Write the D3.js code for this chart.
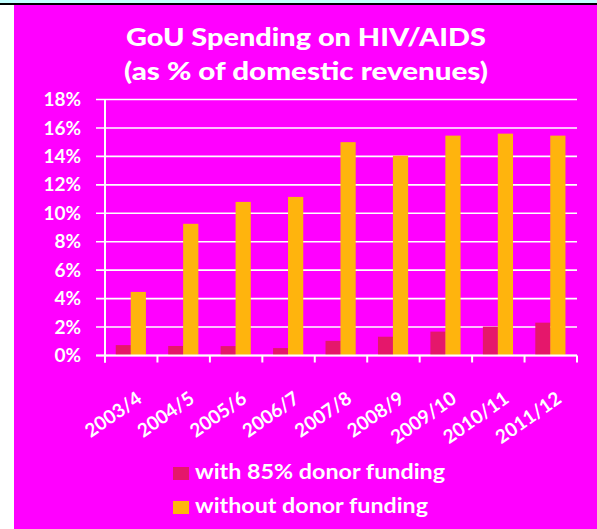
<!DOCTYPE html>
<html>
<head>
<meta charset="utf-8">
<script src="https://cdn.jsdelivr.net/npm/d3@7"></script>
<style>
  body { margin: 0; background: #fff; }
  svg text { font-family: Lato, "Open Sans", sans-serif; font-weight: bold; fill: #fff; }
</style>
</head>
<body>
<svg id="chart" width="597" height="529"></svg>
<script>
// fiscal years on the x axis
var years = ["2003/4", "2004/5", "2005/6", "2006/7", "2007/8", "2008/9", "2009/10", "2010/11", "2011/12"];
// GoU spending as % of domestic revenues
var withDonor = [0.73, 0.67, 0.66, 0.52, 1.03, 1.32, 1.68, 2.03, 2.31];
var withoutDonor = [4.47, 9.26, 10.8, 11.15, 15.0, 14.05, 15.46, 15.6, 15.46];
var seriesNames = ["with 85% donor funding", "without donor funding"];
var yTicks = [0, 2, 4, 6, 8, 10, 12, 14, 16, 18];

var colors = { pink: "#e5176b", orange: "#ffb40d", bg: "#ff00ff" };

var svg = d3.select("#chart");

// page frame: cyan strip, black rule, white margin, magenta chart area
svg.append("rect").attr("x", 0).attr("y", 0).attr("width", 597).attr("height", 529).attr("fill", "#fff");
svg.append("rect").attr("x", 0).attr("y", 0).attr("width", 597).attr("height", 3).attr("fill", "#c0ffff");
svg.append("rect").attr("x", 0).attr("y", 3).attr("width", 597).attr("height", 2).attr("fill", "#000");
svg.append("rect").attr("x", 14).attr("y", 5).attr("width", 583).attr("height", 524).attr("fill", colors.bg);

var plotLeft = 105, plotRight = 577, plotTop = 99.5, plotBottom = 355.5;

var x = d3.scaleBand().domain(years).range([plotLeft, plotRight]);
var y = d3.scaleLinear().domain([0, 18]).range([plotBottom, plotTop]);

// title
svg.append("text").attr("x", 306).attr("y", 46).attr("text-anchor", "middle")
    .style("font-size", "25px").style("font-weight", 900)
    .attr("textLength", 360).attr("lengthAdjust", "spacingAndGlyphs")
    .text("GoU Spending on HIV/AIDS");
svg.append("text").attr("x", 306).attr("y", 80).attr("text-anchor", "middle")
    .style("font-size", "25px").style("font-weight", 900)
    .attr("textLength", 364).attr("lengthAdjust", "spacingAndGlyphs")
    .text("(as % of domestic revenues)");

// gridlines with little tick stubs left of the axis
svg.append("g").selectAll("line").data(yTicks).join("line")
    .attr("x1", plotLeft - 9).attr("x2", plotRight)
    .attr("y1", function(d) { return y(d); }).attr("y2", function(d) { return y(d); })
    .attr("stroke", "#fff").attr("stroke-width", 1.6);

svg.append("g").selectAll("text").data(yTicks).join("text")
    .attr("x", 81).attr("y", function(d) { return y(d); }).attr("dy", "0.35em")
    .attr("text-anchor", "end").style("font-size", "19px")
    .text(function(d) { return d + "%"; });

// bars
var bw = x.step() * 0.29;
svg.append("g").selectAll("rect").data(withDonor).join("rect")
    .attr("x", function(d, i) { return x(years[i]) + x.step() * 0.205; })
    .attr("y", function(d) { return y(d); })
    .attr("width", bw)
    .attr("height", function(d) { return plotBottom - y(d); })
    .attr("fill", colors.pink);
svg.append("g").selectAll("rect").data(withoutDonor).join("rect")
    .attr("x", function(d, i) { return x(years[i]) + x.step() * 0.49; })
    .attr("y", function(d) { return y(d); })
    .attr("width", bw)
    .attr("height", function(d) { return plotBottom - y(d); })
    .attr("fill", colors.orange);

// axes
svg.append("line").attr("x1", plotLeft).attr("x2", plotLeft).attr("y1", plotTop).attr("y2", plotBottom + 7)
    .attr("stroke", "#fff").attr("stroke-width", 2);
svg.append("line").attr("x1", plotLeft - 9).attr("x2", plotRight).attr("y1", plotBottom).attr("y2", plotBottom)
    .attr("stroke", "#fff").attr("stroke-width", 2);
var bounds = years.map(function(d) { return x(d); }).concat([plotRight]);
svg.append("g").selectAll("line").data(bounds).join("line")
    .attr("x1", function(d) { return d; }).attr("x2", function(d) { return d; })
    .attr("y1", plotBottom).attr("y2", plotBottom + 7)
    .attr("stroke", "#fff").attr("stroke-width", 2);

svg.append("g").selectAll("text").data(years).join("text")
    .attr("text-anchor", "end").style("font-size", "19px")
    .attr("transform", function(d) {
        return "translate(" + (x(d) + x.bandwidth() / 2 + 12) + "," + (plotBottom + 46) + ") rotate(-35)";
    })
    .text(function(d) { return d; });

// legend
var legendWidths = [250, 233];
var legend = svg.append("g").selectAll("g").data(seriesNames).join("g")
    .attr("transform", function(d, i) { return "translate(173," + (467 + i * 34) + ")"; });
legend.append("rect").attr("width", 16).attr("height", 13)
    .attr("fill", function(d, i) { return i === 0 ? colors.pink : colors.orange; });
legend.append("text").attr("x", 22).attr("y", 12).style("font-size", "20px")
    .attr("textLength", function(d, i) { return legendWidths[i]; }).attr("lengthAdjust", "spacingAndGlyphs")
    .text(function(d) { return d; });
</script>
</body>
</html>
